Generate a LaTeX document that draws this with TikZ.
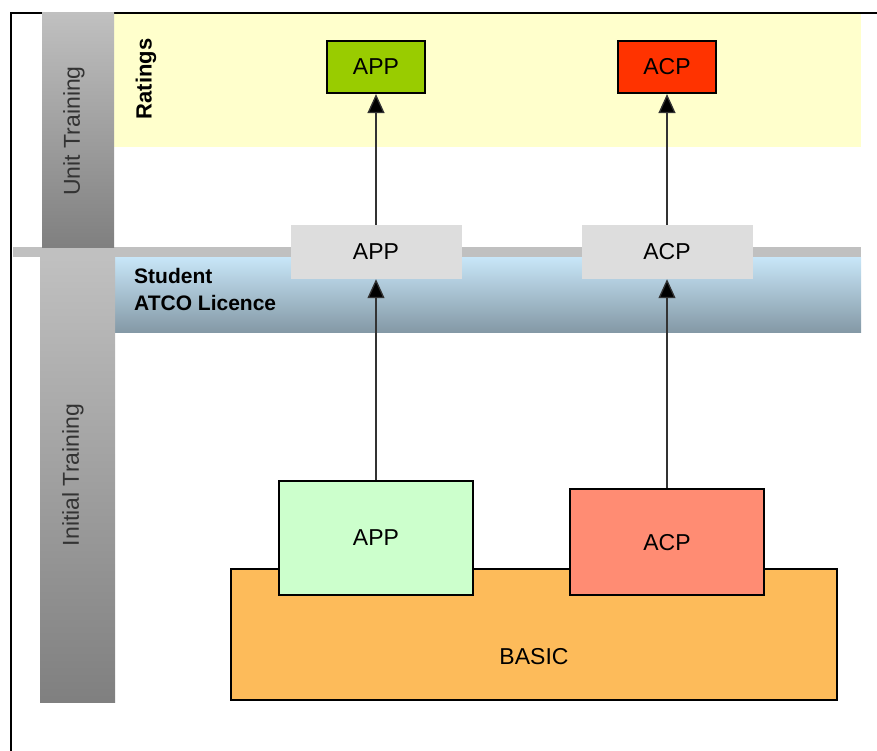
\documentclass[tikz,border=0pt]{standalone}
\usepackage{fontspec}
\setmainfont{Liberation Sans}
\usetikzlibrary{arrows.meta,positioning,calc}
\definecolor{ratingbg}{RGB}{255,255,204}
\definecolor{licencetop}{RGB}{200,230,248}
\definecolor{licencebot}{RGB}{132,153,166}
\definecolor{basicfill}{RGB}{253,187,90}
\definecolor{appfill}{RGB}{204,255,204}
\definecolor{acpfill}{RGB}{255,140,115}
\definecolor{apptop}{RGB}{153,204,0}
\definecolor{acptop}{RGB}{255,51,0}
\definecolor{midgray}{RGB}{221,221,221}
\definecolor{sepgray}{RGB}{192,192,192}

\begin{document}
\begin{tikzpicture}[
    x=1pt, y=-1pt,
    font=\fontsize{23}{27}\selectfont,
    box/.style={rectangle, draw=black, line width=2.2pt, inner sep=0pt, text centered},
    toprating/.style={box, minimum width=98pt, minimum height=52pt},
    midbox/.style={rectangle, fill=midgray, inner sep=0pt, minimum width=171pt, minimum height=54pt},
    sidebar/.style={rectangle, inner sep=0pt, top color=sepgray, bottom color=black!50, text=black!80},
    arrow/.style={-{Triangle[length=19pt,width=17pt,fill=black]}, line width=1.3pt, draw=black!80}
]
    \useasboundingbox (0,0) rectangle (877,751);

    % Bands
    \fill[ratingbg] (114,13) rectangle (861,147);
    \shade[top color=licencetop, bottom color=licencebot] (114,257) rectangle (861,332);
    \fill[sepgray] (13,247) rectangle (861,257);

    % Frame
    \draw[line width=1.5pt] (11,751) -- (11,13) -- (877,13);

    % Side bars
    \node[sidebar, minimum width=72pt, minimum height=234pt] (unitbar) at (78,130) {};
    \node[sidebar, minimum width=75pt, minimum height=445pt] (initbar) at (77.5,479.5) {};
    \node[rotate=90, text=black!80] (unitlbl) at (74,131) {Unit Training};
    \node[rotate=90, text=black!80] (initlbl) at (73,475) {Initial Training};
    \node[rotate=90, font=\fontsize{22}{26}\selectfont\bfseries] (ratings) at (146,79) {Ratings};
    \node[anchor=north west, align=left, inner sep=0pt, font=\fontsize{21}{27}\selectfont\bfseries] (licence) at (134,268) {Student\\ATCO Licence};

    % Initial training blocks
    \node[box, fill=basicfill, minimum width=606pt, minimum height=131pt] (basic) at (534,634.5) {};
    \node (basiclbl) at ($(basic.center)+(0,22)$) {BASIC};
    \node[box, fill=appfill, minimum width=194pt, minimum height=114pt] (appinit) at (376,538) {APP};
    \node[box, fill=acpfill, minimum width=194pt, minimum height=106pt, text depth=-8pt] (acpinit) at (667,542) {ACP};

    % Licence and ratings
    \node[midbox] (applic) at (376,252) {APP};
    \node[midbox] (acplic) at (667,252) {ACP};
    \node[toprating, fill=apptop] (apprating) at (376,67) {APP};
    \node[toprating, fill=acptop] (acprating) at (667,67) {ACP};

    % Arrows
    \draw[arrow] (appinit) -- (applic);
    \draw[arrow] (applic) -- (apprating);
    \draw[arrow] (acpinit) -- (acplic);
    \draw[arrow] (acplic) -- (acprating);
\end{tikzpicture}
\end{document}
